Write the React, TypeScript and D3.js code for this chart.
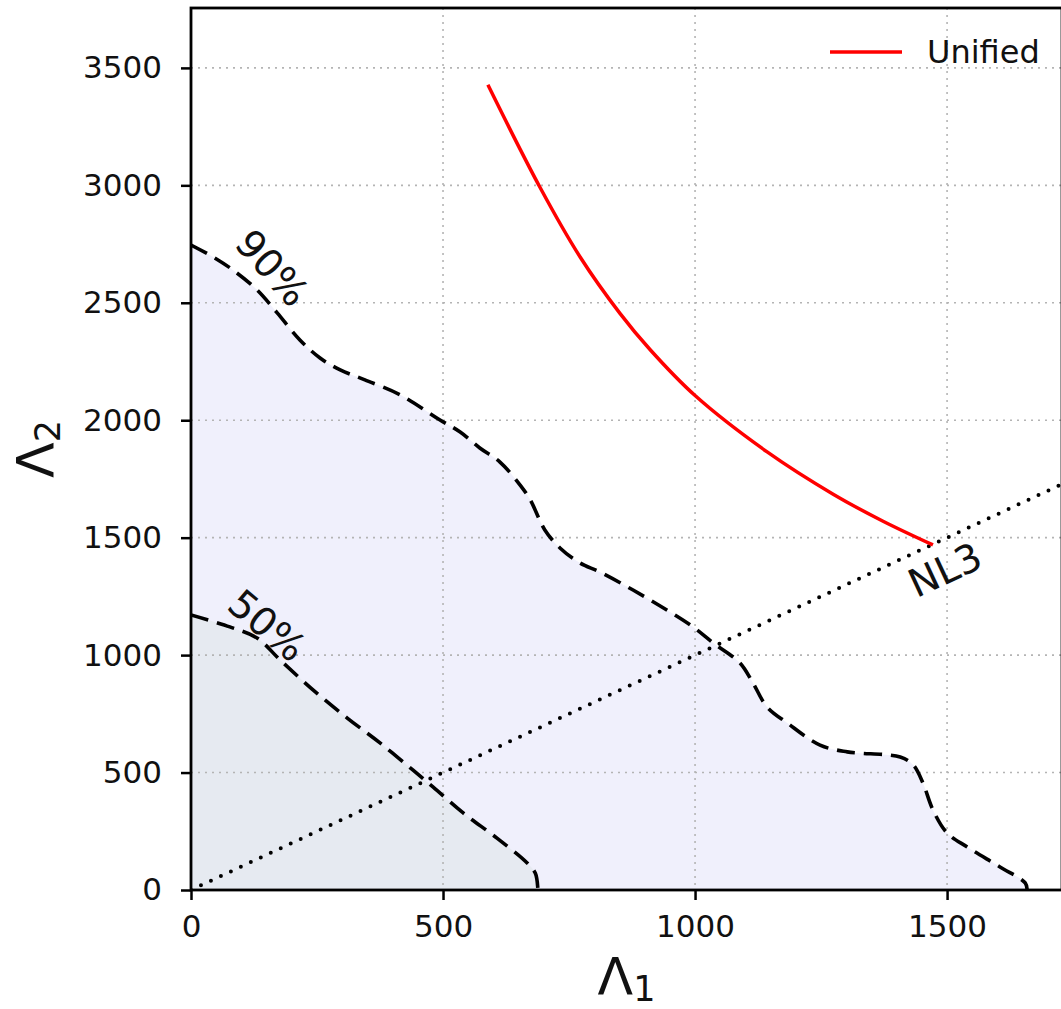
import { useEffect, useRef } from 'react';
import * as d3 from 'd3';

// 90% credible contour, [Λ1, Λ2]
const contour90: [number, number][] = [
  [0, 2746], [44, 2695], [83, 2640], [131, 2555], [171, 2457], [216, 2342],
  [256, 2265], [296, 2214], [345, 2172], [415, 2108], [494, 2001], [534, 1950],
  [573, 1882], [613, 1822], [653, 1724], [673, 1661], [702, 1533], [732, 1456],
  [772, 1392], [811, 1354], [877, 1277], [944, 1192], [996, 1120], [1036, 1052],
  [1089, 967], [1115, 881], [1143, 779], [1183, 711], [1248, 617], [1302, 588],
  [1407, 566], [1433, 532], [1452, 456], [1472, 341], [1500, 243], [1540, 183],
  [1605, 98], [1655, 30], [1659, 0],
];

// 50% credible contour
const contour50: [number, number][] = [
  [0, 1171], [77, 1120], [131, 1073], [177, 979], [242, 852], [310, 732],
  [375, 626], [440, 511], [480, 439], [540, 328], [607, 221], [667, 115],
  [683, 72], [688, 9], [688, 0],
];

// Unified relation
const unified: [number, number][] = [
  [589, 3428], [692, 2993], [772, 2695], [851, 2455], [911, 2300], [1000, 2105],
  [1143, 1865], [1274, 1685], [1373, 1570], [1472, 1469],
];

// NL3 line (Λ2 = Λ1)
const nl3: [number, number][] = [[0, 0], [1728, 1728]];

const xTicks = [0, 500, 1000, 1500];
const yTicks = [0, 500, 1000, 1500, 2000, 2500, 3000, 3500];

const contourLabels = [
  { text: '90%', x: 161, y: 2648, angle: 48 },
  { text: '50%', x: 151, y: 1126, angle: 40 },
  { text: 'NL3', x: 1496, y: 1362, angle: -25 },
];

function App() {
  const svgRef = useRef<SVGSVGElement | null>(null);
  const width = 1061;
  const height = 1009;
  const margin = { top: 8, right: -1, bottom: 119, left: 191 };
  const font = 'DejaVu Sans';

  useEffect(() => {
    const svg = d3.select(svgRef.current);
    svg.selectAll('*').remove();

    const x = d3.scaleLinear().domain([0, 1728]).range([margin.left, width - margin.right]);
    const y = d3.scaleLinear().domain([0, 3755]).range([height - margin.bottom, margin.top]);

    const line = d3
      .line<[number, number]>()
      .x((d) => x(d[0]))
      .y((d) => y(d[1]))
      .curve(d3.curveCatmullRom);
    const straight = d3
      .line<[number, number]>()
      .x((d) => x(d[0]))
      .y((d) => y(d[1]));
    const area = (pts: [number, number][]) => line(pts) + `L${x(0)},${y(0)}Z`;

    const clip = svg.append('defs').append('clipPath').attr('id', 'plot');
    clip
      .append('rect')
      .attr('x', margin.left)
      .attr('y', margin.top)
      .attr('width', width - margin.right - margin.left)
      .attr('height', height - margin.bottom - margin.top);

    const g = svg.append('g').attr('clip-path', 'url(#plot)');

    g.append('path').attr('d', area(contour90)).attr('fill', '#f0f0fc');
    g.append('path').attr('d', area(contour50)).attr('fill', '#e6eaf1');

    // grid
    g.selectAll('.gx')
      .data(xTicks)
      .join('line')
      .attr('x1', (d) => x(d))
      .attr('x2', (d) => x(d))
      .attr('y1', margin.top)
      .attr('y2', height - margin.bottom)
      .attr('stroke', '#b4b4b4')
      .attr('stroke-width', 1.6)
      .attr('stroke-dasharray', '2,5');
    g.selectAll('.gy')
      .data(yTicks)
      .join('line')
      .attr('x1', margin.left)
      .attr('x2', width)
      .attr('y1', (d) => y(d))
      .attr('y2', (d) => y(d))
      .attr('stroke', '#b4b4b4')
      .attr('stroke-width', 1.6)
      .attr('stroke-dasharray', '2,5');

    [contour90, contour50].forEach((c) => {
      g.append('path')
        .attr('d', line(c))
        .attr('fill', 'none')
        .attr('stroke', '#000')
        .attr('stroke-width', 3.6)
        .attr('stroke-dasharray', '18,9');
    });

    g.append('path')
      .attr('d', straight(nl3))
      .attr('fill', 'none')
      .attr('stroke', '#000')
      .attr('stroke-width', 4)
      .attr('stroke-linecap', 'round')
      .attr('stroke-dasharray', '0,11');

    g.append('path')
      .attr('d', line(unified))
      .attr('fill', 'none')
      .attr('stroke', 'red')
      .attr('stroke-width', 3.5);

    contourLabels.forEach((l) => {
      svg
        .append('text')
        .attr('transform', `translate(${x(l.x)},${y(l.y)}) rotate(${l.angle})`)
        .attr('text-anchor', 'middle')
        .attr('dominant-baseline', 'central')
        .attr('font-family', font)
        .attr('font-size', 39)
        .attr('fill', '#111')
        .text(l.text);
    });

    // axes
    const xAxis = svg
      .append('g')
      .attr('transform', `translate(0,${height - margin.bottom})`)
      .call(d3.axisBottom(x).tickValues(xTicks).tickSize(10).tickPadding(15).tickFormat(d3.format('d')));
    const yAxis = svg
      .append('g')
      .attr('transform', `translate(${margin.left},0)`)
      .call(d3.axisLeft(y).tickValues(yTicks).tickSize(10).tickPadding(19).tickFormat(d3.format('d')));
    [xAxis, yAxis].forEach((a) => {
      a.select('.domain').remove();
      a.selectAll('line').attr('stroke', '#000').attr('stroke-width', 2.5);
      a.selectAll('text').attr('font-family', font).attr('font-size', 31).attr('fill', '#111');
    });

    // spines
    svg
      .append('rect')
      .attr('x', margin.left)
      .attr('y', margin.top)
      .attr('width', width - margin.right - margin.left)
      .attr('height', height - margin.bottom - margin.top)
      .attr('fill', 'none')
      .attr('stroke', '#000')
      .attr('stroke-width', 2.8);

    // legend
    svg
      .append('line')
      .attr('x1', 830)
      .attr('x2', 902)
      .attr('y1', 52)
      .attr('y2', 52)
      .attr('stroke', 'red')
      .attr('stroke-width', 3.5);
    svg
      .append('text')
      .attr('x', 927)
      .attr('y', 63)
      .attr('font-family', font)
      .attr('font-size', 32)
      .attr('fill', '#111')
      .text('Unified');

    // axis labels
    const xl = svg
      .append('text')
      .attr('x', (margin.left + width - margin.right) / 2)
      .attr('y', 995)
      .attr('text-anchor', 'middle')
      .attr('font-family', font)
      .attr('font-size', 52)
      .attr('fill', '#111');
    xl.append('tspan').text('Λ');
    xl.append('tspan').attr('font-size', 35).attr('dy', 6).text('1');

    const yl = svg
      .append('text')
      .attr('transform', `translate(54,${(margin.top + height - margin.bottom) / 2}) rotate(-90)`)
      .attr('text-anchor', 'middle')
      .attr('font-family', font)
      .attr('font-size', 52)
      .attr('fill', '#111');
    yl.append('tspan').text('Λ');
    yl.append('tspan').attr('font-size', 35).attr('dy', 6).text('2');
  }, []);

  return (
    <svg
      ref={svgRef}
      width={width}
      height={height}
      style={{ position: 'absolute', left: 0, top: 0, background: '#fff' }}
    />
  );
}

export default App;
